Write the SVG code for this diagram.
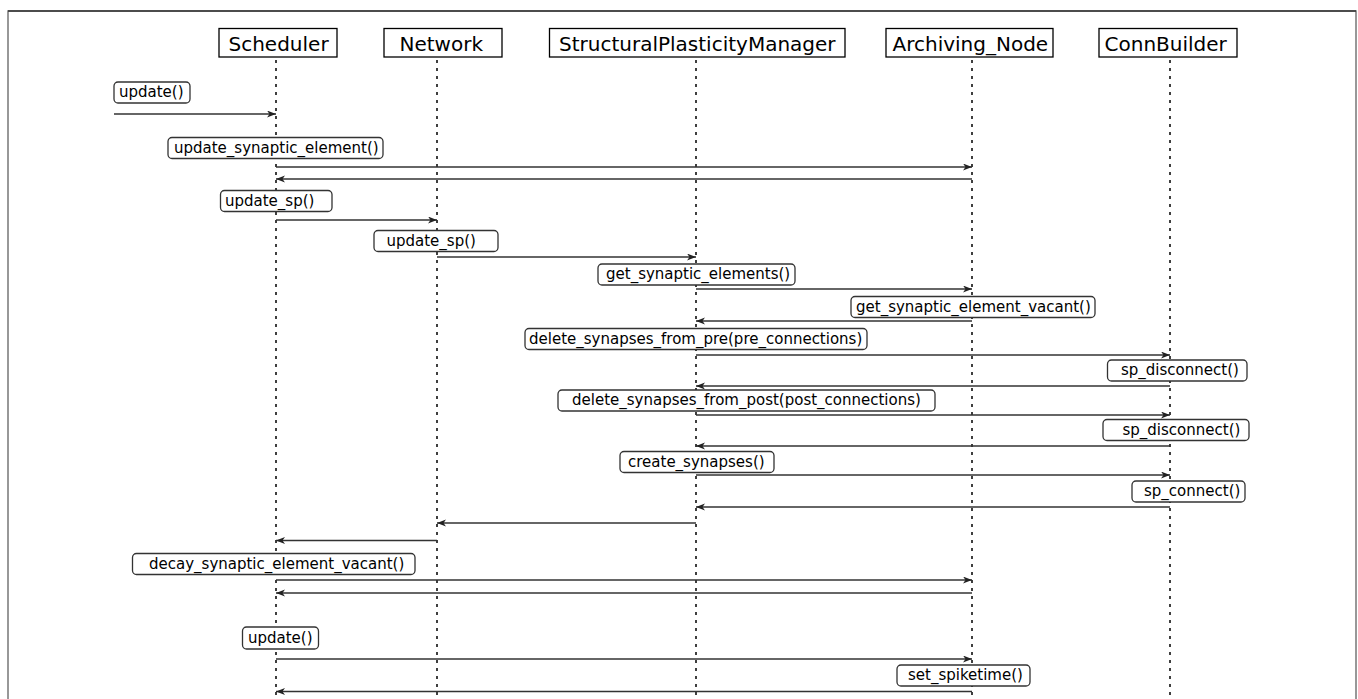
<svg xmlns="http://www.w3.org/2000/svg" width="1358" height="699" viewBox="0 0 1358 699">
<defs>
<marker id="ah" markerUnits="userSpaceOnUse" markerWidth="10" markerHeight="8" refX="9" refY="3.5" orient="auto">
<path d="M0,0 L9,3.5 L0,7 L2.5,3.5 z" fill="#222"/>
</marker>
</defs>
<style>
.hdr rect{fill:#fff;stroke:#000;stroke-width:1.3}
.hdr text{font-family:'DejaVu Sans',sans-serif;font-size:20px;fill:#000}
.life{stroke:#000;stroke-width:1.5;stroke-dasharray:3 5;fill:none}
.lbl rect{fill:#fff;stroke:#333;stroke-width:1.3}
.lbl text{font-family:'DejaVu Sans',sans-serif;font-size:15px;fill:#000}
.msg{stroke:#333;stroke-width:1.3;fill:none;marker-end:url(#ah)}
.frame{stroke:#777;stroke-width:1.5;fill:none}
</style>
<rect width="1358" height="699" fill="#fff"/>
<g id="frame">
<path class="frame" d="M8,699 V11 H1356 V699"/>
<line x1="8" y1="11" x2="1356" y2="11" stroke="#333" stroke-width="1.3"/>
</g>
<g id="lifelines">
<line class="life" x1="276" y1="60" x2="276" y2="699"/>
<line class="life" x1="437" y1="60" x2="437" y2="699"/>
<line class="life" x1="696" y1="60" x2="696" y2="699"/>
<line class="life" x1="972" y1="60" x2="972" y2="699"/>
<line class="life" x1="1170" y1="60" x2="1170" y2="699"/>
</g>
<g id="Scheduler" class="hdr"><rect x="219" y="28.5" width="118" height="28.5"/><text x="228.5" y="51">Scheduler</text></g>
<g id="Network" class="hdr"><rect x="384" y="28.5" width="118" height="28.5"/><text x="399.5" y="51">Network</text></g>
<g id="StructuralPlasticityManager" class="hdr"><rect x="549.5" y="28.5" width="295.5" height="28.5"/><text x="559" y="51">StructuralPlasticityManager</text></g>
<g id="Archiving_Node" class="hdr"><rect x="886" y="28.5" width="167" height="28.5"/><text x="892.5" y="51">Archiving_Node</text></g>
<g id="ConnBuilder" class="hdr"><rect x="1099" y="28.5" width="138" height="28.5"/><text x="1104.5" y="51">ConnBuilder</text></g>
<g id="connectors">
<line class="msg" x1="114" y1="114" x2="276" y2="114"/>
<line class="msg" x1="276" y1="167" x2="972" y2="167"/>
<line class="msg" x1="972" y1="179" x2="276" y2="179"/>
<line class="msg" x1="276" y1="220" x2="437" y2="220"/>
<line class="msg" x1="437" y1="257" x2="696" y2="257"/>
<line class="msg" x1="696" y1="289" x2="972" y2="289"/>
<line class="msg" x1="972" y1="321" x2="696" y2="321"/>
<line class="msg" x1="696" y1="355" x2="1170" y2="355"/>
<line class="msg" x1="1170" y1="386" x2="696" y2="386"/>
<line class="msg" x1="696" y1="415" x2="1170" y2="415"/>
<line class="msg" x1="1170" y1="446" x2="696" y2="446"/>
<line class="msg" x1="696" y1="475" x2="1170" y2="475"/>
<line class="msg" x1="1170" y1="507" x2="696" y2="507"/>
<line class="msg" x1="696" y1="523" x2="437" y2="523"/>
<line class="msg" x1="437" y1="540.5" x2="276" y2="540.5"/>
<line class="msg" x1="276" y1="580" x2="972" y2="580"/>
<line class="msg" x1="972" y1="593" x2="276" y2="593"/>
<line class="msg" x1="276" y1="659" x2="972" y2="659"/>
<line class="msg" x1="972" y1="691.5" x2="276" y2="691.5"/>
</g>
<g id="labels" class="lbl">
<g id="l1"><rect x="114" y="82" width="76" height="21" rx="4"/><text x="119" y="97">update()</text></g>
<g id="l2"><rect x="168" y="137.5" width="215" height="21" rx="4"/><text x="174" y="152.5">update_synaptic_element()</text></g>
<g id="l3"><rect x="220.5" y="190.5" width="111.5" height="21" rx="4"/><text x="225" y="205.5">update_sp()</text></g>
<g id="l4"><rect x="374" y="230.5" width="124" height="21" rx="4"/><text x="386.5" y="245.5">update_sp()</text></g>
<g id="l5"><rect x="598" y="264" width="197" height="21" rx="4"/><text x="606" y="279">get_synaptic_elements()</text></g>
<g id="l6"><rect x="851" y="296.5" width="244" height="21" rx="4"/><text x="856" y="311.5">get_synaptic_element_vacant()</text></g>
<g id="l7"><rect x="525" y="328.5" width="342" height="21" rx="4"/><text x="529" y="343.5">delete_synapses_from_pre(pre_connections)</text></g>
<g id="l8"><rect x="1107.5" y="360" width="139.5" height="21" rx="4"/><text x="1121" y="375">sp_disconnect()</text></g>
<g id="l9"><rect x="558" y="390" width="377" height="21" rx="4"/><text x="572" y="405">delete_synapses_from_post(post_connections)</text></g>
<g id="l10"><rect x="1103" y="419.5" width="146" height="21" rx="4"/><text x="1122.5" y="434.5">sp_disconnect()</text></g>
<g id="l11"><rect x="620" y="451.5" width="154" height="21" rx="4"/><text x="628" y="466.5">create_synapses()</text></g>
<g id="l12"><rect x="1132" y="481" width="113" height="21" rx="4"/><text x="1144" y="496">sp_connect()</text></g>
<g id="l13"><rect x="132.5" y="553.5" width="282.5" height="21" rx="4"/><text x="149" y="568.5">decay_synaptic_element_vacant()</text></g>
<g id="l14"><rect x="242.5" y="627" width="76" height="22" rx="4"/><text x="248" y="642.5">update()</text></g>
<g id="l15"><rect x="897" y="665" width="133" height="21" rx="4"/><text x="908" y="680">set_spiketime()</text></g>
</g>
</svg>
